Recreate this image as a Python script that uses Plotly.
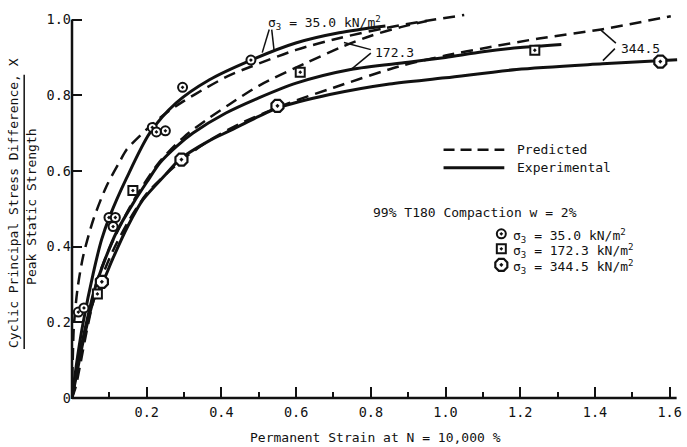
import plotly.graph_objects as go

# ---------------- data ----------------
# Experimental (solid) curves
exp_35_x = [0, 0.004, 0.015, 0.03, 0.057, 0.079, 0.101, 0.146, 0.208, 0.279, 0.368, 0.475, 0.599, 0.715, 0.839]
exp_35_y = [0, 0.03, 0.11, 0.20, 0.33, 0.418, 0.48, 0.581, 0.700, 0.78, 0.841, 0.891, 0.938, 0.965, 0.983]

exp_172_x = [0, 0.01, 0.03, 0.06, 0.088, 0.12, 0.164, 0.2, 0.235, 0.28, 0.324, 0.412, 0.5, 0.6, 0.746, 0.9, 1.0, 1.1, 1.2, 1.31]
exp_172_y = [0, 0.06, 0.16, 0.285, 0.365, 0.44, 0.515, 0.57, 0.621, 0.665, 0.70, 0.753, 0.793, 0.832, 0.868, 0.887, 0.900, 0.915, 0.926, 0.934]

exp_344_x = [0, 0.01, 0.03, 0.06, 0.08, 0.11, 0.15, 0.19, 0.25, 0.288, 0.368, 0.42, 0.5, 0.55, 0.69, 0.85, 1.0, 1.19, 1.42, 1.62]
exp_344_y = [0, 0.05, 0.15, 0.265, 0.30, 0.37, 0.455, 0.524, 0.59, 0.63, 0.68, 0.705, 0.744, 0.766, 0.802, 0.83, 0.846, 0.868, 0.883, 0.894]

# Predicted (dashed) curves
pred_35_x = [0, 0.002, 0.005, 0.015, 0.03, 0.057, 0.092, 0.128, 0.146, 0.199, 0.252, 0.3, 0.36, 0.42, 0.48, 0.6, 0.72, 0.84, 0.95, 1.05]
pred_35_y = [0, 0.10, 0.19, 0.29, 0.375, 0.471, 0.559, 0.625, 0.656, 0.709, 0.753, 0.785, 0.82, 0.852, 0.876, 0.92, 0.952, 0.978, 0.997, 1.012]

pred_172_x = [0, 0.01, 0.03, 0.066, 0.1, 0.164, 0.235, 0.3, 0.36, 0.42, 0.5, 0.626, 0.728, 0.803, 0.88, 0.95]
pred_172_y = [0, 0.05, 0.155, 0.305, 0.395, 0.52, 0.625, 0.69, 0.735, 0.775, 0.825, 0.885, 0.93, 0.958, 0.98, 0.996]

pred_344_x = [0, 0.01, 0.021, 0.04, 0.057, 0.08, 0.11, 0.15, 0.2, 0.25, 0.306, 0.37, 0.45, 0.58, 0.7, 0.875, 1.0, 1.106, 1.25, 1.417, 1.603]
pred_344_y = [0, 0.03, 0.083, 0.18, 0.255, 0.32, 0.39, 0.465, 0.54, 0.59, 0.638, 0.682, 0.725, 0.779, 0.82, 0.876, 0.905, 0.925, 0.95, 0.974, 1.009]

# Test points
pts_35_x = [0.017, 0.032, 0.099, 0.116, 0.110, 0.215, 0.226, 0.250, 0.296, 0.479]
pts_35_y = [0.227, 0.238, 0.477, 0.477, 0.453, 0.715, 0.703, 0.706, 0.821, 0.893]
pts_172_x = [0.068, 0.163, 0.611, 1.239]
pts_172_y = [0.275, 0.548, 0.861, 0.919]
pts_344_x = [0.080, 0.293, 0.550, 1.575]
pts_344_y = [0.307, 0.630, 0.772, 0.889]

# Ticks
x_tickvals = [0.2, 0.4, 0.6, 0.8, 1.0, 1.2, 1.4, 1.6]
x_ticktext = ["0.2", "0.4", "0.6", "0.8", "1.0", "1.2", "1.4", "1.6"]
x_minor = [0.1, 0.3, 0.5, 0.7, 0.9, 1.1, 1.3, 1.5]
y_tickvals = [0, 0.2, 0.4, 0.6, 0.8, 1.0]
y_ticktext = ["0", "0.2", "0.4", "0.6", "0.8", "1.0"]

# Text
legend_pred = "Predicted"
legend_exp = "Experimental"
cond_text = "99% T180 Compaction w = 2%"
key_labels = ["σ<sub>3</sub> = 35.0 kN/m<sup>2</sup>",
              "σ<sub>3</sub> = 172.3 kN/m<sup>2</sup>",
              "σ<sub>3</sub> = 344.5 kN/m<sup>2</sup>"]
top_label = "σ<sub>3</sub> = 35.0 kN/m<sup>2</sup>"
lab_172 = "172.3"
lab_344 = "344.5"
x_title = "Permanent Strain at N = 10,000 %"
y_num = "Cyclic Principal Stress Difference, X"
y_den = "Peak Static Strength"

# ---------------- layout geometry ----------------
W, H = 687, 447
L, B = 72, 49
XMAX, YMAX = 1.625, 1.02
PW = W - L - 5.625
PH = 385.56
T = H - B - PH
R = W - L - PW
FONT = "DejaVu Sans Mono"
INK = "#111111"


def pxp(xp):  # pixel -> paper x
    return (xp - L) / PW


def pyp(yp):  # pixel -> paper y
    return (H - B - yp) / PH


def pxd(xp):  # pixel -> data x
    return (xp - L) / PW * XMAX


def pyd(yp):  # pixel -> data y
    return (H - B - yp) / PH * YMAX


fig = go.Figure()

solid = dict(color=INK, width=3, shape="spline", smoothing=0.8)
dashed = dict(color=INK, width=2.5, shape="spline", smoothing=0.8, dash="12px,7px")

for xs, ys in [(exp_35_x, exp_35_y), (exp_172_x, exp_172_y), (exp_344_x, exp_344_y)]:
    fig.add_trace(go.Scatter(x=xs, y=ys, mode="lines", line=solid, showlegend=False, hoverinfo="skip"))
for xs, ys in [(pred_35_x, pred_35_y), (pred_172_x, pred_172_y), (pred_344_x, pred_344_y)]:
    fig.add_trace(go.Scatter(x=xs, y=ys, mode="lines", line=dashed, showlegend=False, hoverinfo="skip"))

mk_35 = dict(symbol="circle-dot", size=9, color="white", line=dict(color=INK, width=2))
mk_172 = dict(symbol="square-dot", size=9, color="white", line=dict(color=INK, width=2))
mk_344 = dict(symbol="octagon-dot", size=13, color="white", line=dict(color=INK, width=2.2))

fig.add_trace(go.Scatter(x=pts_35_x, y=pts_35_y, mode="markers", marker=mk_35, showlegend=False, cliponaxis=False))
fig.add_trace(go.Scatter(x=pts_172_x, y=pts_172_y, mode="markers", marker=mk_172, showlegend=False, cliponaxis=False))
fig.add_trace(go.Scatter(x=pts_344_x, y=pts_344_y, mode="markers", marker=mk_344, showlegend=False, cliponaxis=False))

# legend key markers
key_y_px = [234, 249, 265]
for mk, yp in zip([mk_35, mk_172, mk_344], key_y_px):
    fig.add_trace(go.Scatter(x=[pxd(503)], y=[pyd(yp)], mode="markers", marker=mk,
                             showlegend=False, cliponaxis=False, hoverinfo="skip"))

shapes = []
# axis lines
shapes.append(dict(type="line", xref="paper", yref="paper", x0=pxp(L), x1=pxp(679),
                   y0=pyp(398), y1=pyp(398), line=dict(color=INK, width=2.5)))
shapes.append(dict(type="line", xref="paper", yref="paper", x0=pxp(L), x1=pxp(L),
                   y0=pyp(399), y1=pyp(20), line=dict(color=INK, width=2.5)))
# legend sample lines
shapes.append(dict(type="line", xref="paper", yref="paper", x0=pxp(445), x1=pxp(506),
                   y0=pyp(150), y1=pyp(150), line=dict(color=INK, width=2.5, dash="11px,6px")))
shapes.append(dict(type="line", xref="paper", yref="paper", x0=pxp(445), x1=pxp(506),
                   y0=pyp(168), y1=pyp(168), line=dict(color=INK, width=3)))
# y title fraction bar
shapes.append(dict(type="line", xref="paper", yref="paper", x0=pxp(24), x1=pxp(24),
                   y0=pyp(349), y1=pyp(75), line=dict(color=INK, width=1.5)))
# leader lines
leaders = [
    ((270, 30), (263, 53)), ((272.5, 30), (275, 52)),
    ((372, 50), (345, 43)), ((372, 53.5), (352, 70)),
    ((618, 43.5), (603, 30.5)), ((617, 49), (605, 61)),
]
for (x0, y0), (x1, y1) in leaders:
    shapes.append(dict(type="line", xref="paper", yref="paper", x0=pxp(x0), x1=pxp(x1),
                       y0=pyp(y0), y1=pyp(y1), line=dict(color=INK, width=1.5)))

anns = []


def ann(text, xp, yp, xa="left", ya="middle", size=13, angle=0):
    anns.append(dict(text=text, x=pxp(xp), y=pyp(yp), xref="paper", yref="paper",
                     xanchor=xa, yanchor=ya, showarrow=False, textangle=angle,
                     font=dict(family=FONT, size=size, color=INK)))


ann(legend_pred, 517, 150)
ann(legend_exp, 517, 168)
ann(cond_text, 372, 213)
for lab, yp in zip(key_labels, key_y_px):
    ann(lab, 513, yp + 2)
ann(top_label, 267, 23)
ann(lab_172, 374, 53)
ann(lab_344, 621, 49)
ann(x_title, 377, 437, xa="center")
ann(y_num, 14, 203, xa="center", angle=-90)
ann(y_den, 32, 207, xa="center", angle=-90)

fig.update_layout(
    width=W, height=H,
    margin=dict(l=L, r=R, t=T, b=B, pad=0),
    paper_bgcolor="white", plot_bgcolor="white",
    showlegend=False,
    shapes=shapes, annotations=anns,
    font=dict(family=FONT, size=13, color=INK),
    xaxis=dict(range=[0, XMAX], showgrid=False, zeroline=False, showline=False,
               tickmode="array", tickvals=x_tickvals, ticktext=x_ticktext,
               ticks="inside", ticklen=11, tickwidth=2, tickcolor=INK,
               ticklabelstandoff=4,
               tickfont=dict(family=FONT, size=13.5, color=INK),
               minor=dict(tickvals=x_minor, ticks="inside", ticklen=6, tickwidth=2, tickcolor=INK)),
    yaxis=dict(range=[0, YMAX], showgrid=False, zeroline=False, showline=False,
               tickmode="array", tickvals=y_tickvals, ticktext=y_ticktext,
               ticks="inside", ticklen=10, tickwidth=2, tickcolor=INK,
               tickfont=dict(family=FONT, size=13.5, color=INK)),
)

fig.write_html("out.html", config={"displayModeBar": False},
               post_script="document.body.style.margin='0';")
